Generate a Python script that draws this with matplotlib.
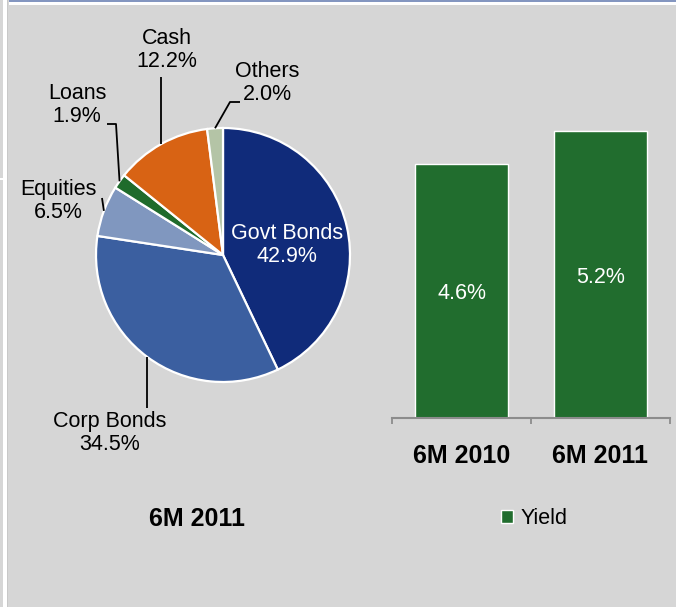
import matplotlib
matplotlib.use("Agg")
import matplotlib.pyplot as plt
from matplotlib.patches import Rectangle
import numpy as np

plt.rcParams['font.family'] = ['Liberation Sans', 'DejaVu Sans']

# asset mix, 6M 2011
labels = ["Govt Bonds", "Corp Bonds", "Equities", "Loans", "Cash", "Others"]
shares = [42.9, 34.5, 6.5, 1.9, 12.2, 2.0]
pie_colors = ["#102b7a", "#3b5fa0", "#8097bf", "#1f6b2b", "#d86314", "#b4c4a6"]

# yield by period
periods = ["6M 2010", "6M 2011"]
yields = [4.6, 5.2]
bar_color = "#216d2e"

W, H = 676, 607
BG = "#d6d6d6"
fig = plt.figure(figsize=(W / 100, H / 100), dpi=100)
fig.patch.set_facecolor(BG)

# full-figure axes in pixel units (y measured from the top via py())
ax = fig.add_axes([0, 0, 1, 1])
def py(y):
    return H - y

# panel frame
ax.add_patch(Rectangle((3, 0), 5, H, color="white", lw=0))
ax.add_patch(Rectangle((7, 0), 0.8, H, color="#c8c8c8", lw=0))
ax.add_patch(Rectangle((0, py(179.5)), 3, 1.5, color="white", lw=0))
ax.add_patch(Rectangle((9, py(5)), W - 9, 5, color="white", lw=0))
ax.add_patch(Rectangle((9, py(1.6)), W - 9, 1.6, color="#8496c0", lw=0))

# pie
cx, cy, r = 223, 255, 127
ax.pie(shares, colors=pie_colors, startangle=90, counterclock=False,
       radius=r, center=(cx, py(cy)),
       wedgeprops=dict(edgecolor="white", linewidth=1.6))
ax.set_xlim(0, W)
ax.set_ylim(0, H)
ax.set_aspect("auto")
ax.axis("off")

cum = np.cumsum([0] + shares)
mids = (cum[:-1] + cum[1:]) / 2 * 3.6  # degrees clockwise from 12 o'clock

def rim(i):
    t = np.radians(mids[i])
    return cx + r * np.sin(t), cy - r * np.cos(t)

fs = 15.5
# label text positions (pixels) and leader elbows
label_pos = {
    0: (287, 245),
    1: (110, 433),
    2: (58, 201),
    3: (77, 105),
    4: (167, 50),
    5: (267, 83),
}
leaders = {
    1: lambda x, y: [(x, y), (x, 408)],
    2: lambda x, y: [(x, y), (102, 198)],
    3: lambda x, y: [(x, y), (116, 124), (107, 124)],
    4: lambda x, y: [(x, y), (x, 77)],
    5: lambda x, y: [(x, y), (230, 102), (240, 102)],
}
for i, (name, v) in enumerate(zip(labels, shares)):
    tx, ty = label_pos[i]
    ax.text(tx, py(ty), f"{name}\n{v:.1f}%", ha="center", va="center",
            fontsize=fs, linespacing=1.1,
            color="white" if i == 0 else "black")
    if i in leaders:
        pts = leaders[i](*rim(i))
        ax.plot([p[0] for p in pts], [py(p[1]) for p in pts],
                color="black", lw=1.3, solid_capstyle="butt")

ax.text(197, py(519), "6M 2011", ha="center", va="center",
        fontsize=18, fontweight="bold")

# bar chart of yields
bx = fig.add_axes([392 / W, (H - 418) / H, 278 / W, 331 / H])
bx.set_facecolor("none")
x = np.arange(len(periods))
bars = bx.bar(x, yields, width=0.676, color=bar_color, edgecolor="white",
              linewidth=1.0, label="Yield")
for xi, v in zip(x, yields):
    bx.text(xi, v / 2 - 0.05, f"{v}%", ha="center", va="center",
            color="white", fontsize=fs)
bx.set_xlim(-0.5, 1.5)
bx.set_ylim(0, 6)
for s in ["top", "left", "right"]:
    bx.spines[s].set_visible(False)
bx.spines["bottom"].set_color("#8c8c8c")
bx.spines["bottom"].set_linewidth(1.5)
bx.set_yticks([])
bx.set_xticks(x)
bx.set_xticklabels(periods, fontsize=18, fontweight="bold")
bx.tick_params(axis="x", which="major", length=0, pad=19)
bx.set_xticks([-0.5, 0.5, 1.5], minor=True)
bx.tick_params(axis="x", which="minor", length=4.5, width=1.3,
               color="#8c8c8c", direction="out")

bx.legend(loc="center", bbox_to_anchor=(534 / W, 1 - 519 / H),
          bbox_transform=fig.transFigure, frameon=False, fontsize=fs,
          handlelength=0.55, handleheight=0.55, handletextpad=0.35)

fig.savefig("out.png", dpi=100, facecolor=BG)
